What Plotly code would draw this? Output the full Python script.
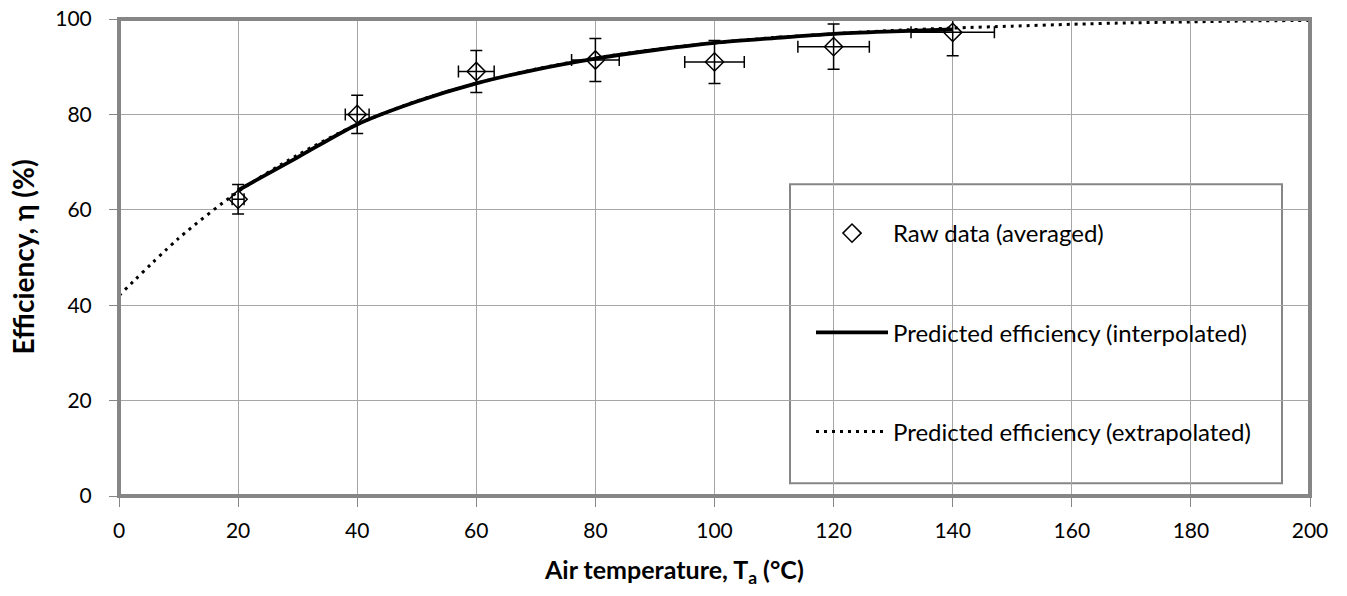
import plotly.graph_objects as go

# ---- data ----
raw_x = [20, 40, 60, 80, 100, 120, 140]
raw_y = [62.2, 80.0, 89.0, 91.4, 91.0, 94.2, 97.2]
raw_yerr = [3.1, 4.0, 4.4, 4.5, 4.5, 4.75, 4.9]
raw_xerr = [1, 2, 3, 4, 5, 6, 7]

interp_x = [20, 30, 40, 50, 60, 70, 80, 90, 100, 110, 120, 130, 140]
interp_y = [64.1, 71.0, 77.9, 82.7, 86.5, 89.4, 91.7, 93.5, 95.0, 96.0, 96.9, 97.4, 97.8]

extrap_x = [0, 10, 20, 30, 40, 50, 60, 70, 80, 90, 100, 110, 120, 130, 140,
            150, 160, 170, 180, 190, 200]
extrap_y = [42.0, 54.0, 63.8, 71.5, 77.9, 82.8, 86.5, 89.5, 91.8, 93.6, 95.0,
            96.1, 96.9, 97.6, 98.1, 98.5, 98.9, 99.2, 99.4, 99.6, 99.7]

x_ticks = [0, 20, 40, 60, 80, 100, 120, 140, 160, 180, 200]
y_ticks = [0, 20, 40, 60, 80, 100]

FONT = "Lato, 'Open Sans', sans-serif"
FRAME = "#868686"
GRID = "#a6a6a6"

fig = go.Figure()

fig.add_trace(go.Scatter(
    x=extrap_x, y=extrap_y, mode="lines",
    name="Predicted efficiency (extrapolated)",
    line=dict(color="black", width=3, dash="3px,5px", shape="spline", smoothing=0.8),
    legendgroup="c", legendrank=3,
))
fig.add_trace(go.Scatter(
    x=interp_x, y=interp_y, mode="lines",
    name="Predicted efficiency (interpolated)",
    line=dict(color="black", width=3.8, shape="spline", smoothing=0.8),
    legendgroup="b", legendrank=2,
))
fig.add_trace(go.Scatter(
    x=raw_x, y=raw_y, mode="markers",
    name="Raw data (averaged)",
    marker=dict(symbol="diamond-open", size=14, color="black",
                line=dict(color="black", width=1.5)),
    error_y=dict(type="data", array=raw_yerr, color="black", thickness=1.5, width=6),
    error_x=dict(type="data", array=raw_xerr, color="black", thickness=1.5, width=6),
    legendgroup="a", legendrank=1,
))

# legend box (border and white fill)
fig.add_shape(type="rect", xref="paper", yref="paper",
              x0=0.5634, x1=0.9765, y0=0.0266, y1=0.6537,
              line=dict(color=FRAME, width=2), fillcolor="white", layer="between")
# plot frame
fig.add_shape(type="rect", xref="paper", yref="paper",
              x0=0, x1=1, y0=0, y1=1,
              line=dict(color=FRAME, width=4), layer="above")

fig.add_annotation(
    text="<b>Air temperature, T<sub>a</sub> (°C)</b>",
    xref="paper", yref="paper", x=(673.5 - 119) / 1191, y=-(571 - 496) / 477,
    xanchor="center", yanchor="middle", showarrow=False,
    font=dict(family=FONT, size=25, color="black"),
)
fig.add_annotation(
    text="<b>Efficiency, η (%)</b>",
    xref="paper", yref="paper", x=-(119 - 22) / 1191, y=0.5, textangle=-90,
    xanchor="center", yanchor="middle", showarrow=False,
    font=dict(family=FONT, size=28, color="black"),
)

fig.update_layout(
    width=1347, height=596,
    margin=dict(l=119, r=37, t=19, b=100, pad=0, autoexpand=False),
    paper_bgcolor="white", plot_bgcolor="white",
    font=dict(family=FONT, size=21, color="black"),
    showlegend=True,
    legend=dict(
        x=(811 - 119) / 1191, xanchor="left",
        y=(496 - 211) / 477, yanchor="top",
        bgcolor="rgba(0,0,0,0)", borderwidth=0,
        itemwidth=72, tracegroupgap=65,
        traceorder="grouped",
        font=dict(family=FONT, size=24, color="black"),
    ),
    xaxis=dict(
        range=[0, 200], tickvals=x_ticks, showgrid=True, gridcolor=GRID, gridwidth=1,
        zeroline=False, showline=False, ticks="outside", ticklen=10, tickcolor=FRAME,
        tickwidth=1, ticklabelstandoff=6, fixedrange=True, automargin=False,
    ),
    yaxis=dict(
        range=[0, 100], tickvals=y_ticks, showgrid=True, gridcolor=GRID, gridwidth=1,
        zeroline=False, showline=False, ticks="outside", ticklen=9, tickcolor=FRAME,
        tickwidth=1, ticklabelstandoff=13, fixedrange=True, automargin=False,
    ),
)

fig.write_html("out.html")
